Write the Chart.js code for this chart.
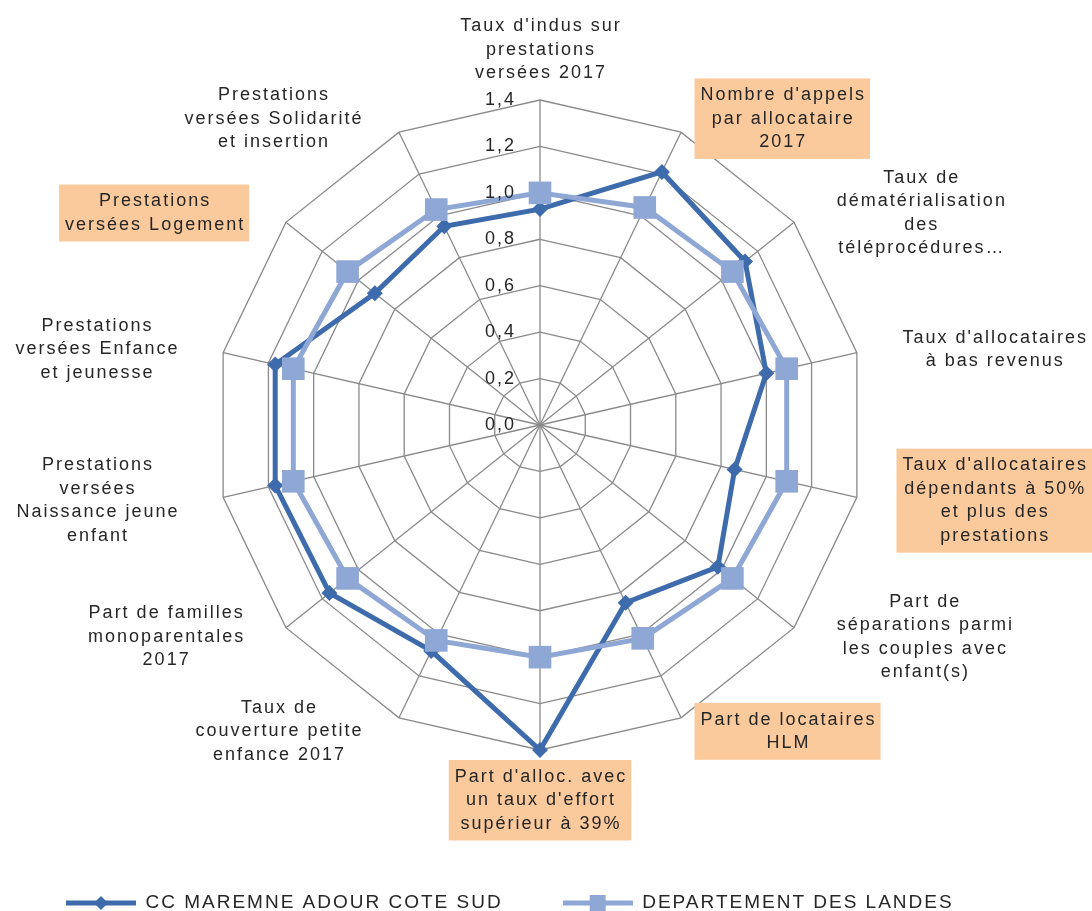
<!DOCTYPE html>
<html lang="fr">
<head>
<meta charset="utf-8">
<title>Radar CAF</title>
<script src="https://cdn.jsdelivr.net/npm/chart.js@4.4.1/dist/chart.umd.min.js"></script>
<style>
  html, body { margin: 0; padding: 0; background: #fff; }
  #wrap { width: 1092px; height: 911px; }
</style>
</head>
<body>
<div id="wrap"><canvas id="radar" width="1092" height="911"></canvas></div>
<script>
// axes, clockwise from the top
const categories = [
  ["Taux d'indus sur", "prestations", "versées 2017"],
  ["Nombre d'appels", "par allocataire", "2017"],
  ["Taux de", "dématérialisation", "des", "téléprocédures…"],
  ["Taux d'allocataires", "à bas revenus"],
  ["Taux d'allocataires", "dépendants à 50%", "et plus des", "prestations"],
  ["Part de", "séparations parmi", "les couples avec", "enfant(s)"],
  ["Part de locataires", "HLM"],
  ["Part d'alloc. avec", "un taux d'effort", "supérieur à 39%"],
  ["Taux de", "couverture petite", "enfance 2017"],
  ["Part de familles", "monoparentales", "2017"],
  ["Prestations", "versées", "Naissance jeune", "enfant"],
  ["Prestations", "versées Enfance", "et jeunesse"],
  ["Prestations", "versées Logement"],
  ["Prestations", "versées Solidarité", "et insertion"]
];
const highlighted = [1, 4, 6, 7, 12];

const seriesNames = ["CC MAREMNE ADOUR COTE SUD", "DEPARTEMENT DES LANDES"];
const ccValues = [0.93, 1.21, 1.13, 1.00, 0.86, 0.98, 0.85, 1.40, 1.08, 1.16, 1.17, 1.17, 0.91, 0.95];
const deptValues = [1.00, 1.04, 1.06, 1.09, 1.09, 1.06, 1.02, 1.00, 1.03, 1.06, 1.09, 1.09, 1.06, 1.03];

const axisMin = 0;
const axisMax = 1.4;
const axisStep = 0.2;

const dark = "#3d6bab";
const light = "#8fa7d5";
const textColor = "#262626";
const orange = "rgb(250, 201, 156)";
const fontFamily = '"Liberation Sans", Arial, sans-serif';

function legendIcon(color, diamond) {
  const c = document.createElement("canvas");
  c.width = 70;
  c.height = 18;
  const g = c.getContext("2d");
  g.strokeStyle = color;
  g.lineWidth = 5;
  g.beginPath();
  g.moveTo(0, 9);
  g.lineTo(70, 9);
  g.stroke();
  g.fillStyle = color;
  if (diamond) {
    g.beginPath();
    g.moveTo(35, 2); g.lineTo(42, 9); g.lineTo(35, 16); g.lineTo(28, 9);
    g.closePath();
    g.fill();
  } else {
    g.fillRect(27, 1, 16, 16);
  }
  return c;
}
const icons = [legendIcon(dark, true), legendIcon(light, false)];

// the old excel picture has wide letter spacing
const spacing = {
  id: "spacing",
  beforeUpdate(chart) { chart.ctx.letterSpacing = "2px"; },
  beforeLayout(chart) { chart.ctx.letterSpacing = "2px"; },
  beforeDraw(chart) { chart.ctx.letterSpacing = "2px"; }
};

// axis titles and value labels, excel style
const labels = {
  id: "labels",
  afterDraw(chart) {
    const r = chart.scales.r;
    const ctx = chart.ctx;
    const lh = 23.5;
    ctx.save();
    ctx.letterSpacing = "2px";
    ctx.font = "18px " + fontFamily;
    ctx.fillStyle = textColor;
    ctx.textBaseline = "middle";

    ctx.textAlign = "right";
    r.ticks.forEach(t => {
      const y = r.yCenter - r.getDistanceFromCenterForValue(t.value);
      ctx.fillText(t.value.toFixed(1).replace(".", ","), r.xCenter - 24, y);
    });

    ctx.textAlign = "center";
    const n = categories.length;
    categories.forEach((lines, i) => {
      const a = i * 2 * Math.PI / n;
      const sin = Math.sin(a), cos = Math.cos(a);
      const p = r.getPointPosition(i, r.drawingArea + 15);
      const w = Math.max(...lines.map(l => ctx.measureText(l).width));
      const h = lines.length * lh;
      let cx, cy;
      if (Math.abs(sin) < 0.01) {
        cx = p.x;
        cy = cos > 0 ? p.y - h / 2 : p.y + h / 2;
      } else {
        const gap = sin > 0 && Math.abs(sin) < 0.5 ? 12 : 30;
        cx = sin > 0 ? p.x + gap + w / 2 : p.x - gap - w / 2;
        cy = p.y;
      }
      if (highlighted.includes(i)) {
        ctx.fillStyle = orange;
        ctx.fillRect(cx - w / 2 - 5, cy - h / 2 - 5, w + 10, h + 10);
        ctx.fillStyle = textColor;
      }
      lines.forEach((l, k) => ctx.fillText(l, cx + 1, cy - h / 2 + lh * (k + 0.5)));
    });
    ctx.restore();
  }
};

new Chart(document.getElementById("radar"), {
  type: "radar",
  data: {
    labels: categories,
    datasets: [
      {
        label: seriesNames[0],
        data: ccValues,
        order: 1,
        borderColor: dark,
        backgroundColor: dark,
        borderWidth: 5,
        fill: false,
        pointStyle: "rectRot",
        pointRadius: 8,
        pointBorderWidth: 0,
        pointBackgroundColor: dark
      },
      {
        label: seriesNames[1],
        data: deptValues,
        order: 0,
        borderColor: light,
        backgroundColor: light,
        borderWidth: 5,
        fill: false,
        pointStyle: "rect",
        pointRadius: 16,
        pointBorderWidth: 0,
        pointBackgroundColor: light
      }
    ]
  },
  options: {
    responsive: false,
    animation: false,
    layout: { padding: { top: 100, right: 18, bottom: -11.5, left: 6 } },
    plugins: {
      tooltip: { enabled: false },
      legend: {
        position: "bottom",
        align: "start",
        title: { display: true, text: "", font: { size: 1, lineHeight: 1 }, padding: { top: 82.5, bottom: 0 } },
        labels: {
          usePointStyle: true,
          pointStyleWidth: 70,
          padding: 60,
          color: textColor,
          font: { size: 19, family: fontFamily },
          generateLabels: chart => chart.data.datasets.map((ds, i) => ({
            text: ds.label,
            pointStyle: icons[i],
            fillStyle: "transparent",
            strokeStyle: "transparent",
            lineWidth: 0,
            hidden: false,
            datasetIndex: i,
            fontColor: textColor
          }))
        }
      }
    },
    scales: {
      r: {
        min: axisMin,
        max: axisMax,
        ticks: { stepSize: axisStep, display: false },
        grid: { color: "#8a8a8a", lineWidth: 1.3 },
        angleLines: { color: "#8a8a8a", lineWidth: 1.3 },
        pointLabels: { display: false }
      }
    }
  },
  plugins: [spacing, labels]
});
</script>
</body>
</html>
